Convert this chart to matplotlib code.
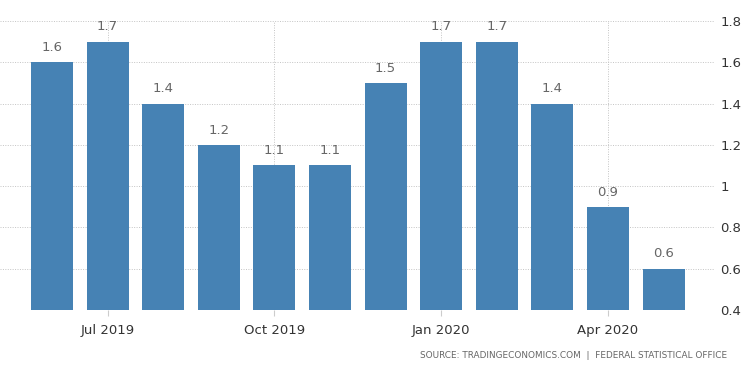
import matplotlib
matplotlib.use("Agg")
import matplotlib.pyplot as plt

months = ["Jun 2019", "Jul 2019", "Aug 2019", "Sep 2019", "Oct 2019", "Nov 2019",
          "Dec 2019", "Jan 2020", "Feb 2020", "Mar 2020", "Apr 2020", "May 2020"]
values = [1.6, 1.7, 1.4, 1.2, 1.1, 1.1, 1.5, 1.7, 1.7, 1.4, 0.9, 0.6]
tick_labels = ["Jul 2019", "Oct 2019", "Jan 2020", "Apr 2020"]
y_ticks = [0.4, 0.6, 0.8, 1.0, 1.2, 1.4, 1.6, 1.8]
y_tick_labels = ["0.4", "0.6", "0.8", "1", "1.2", "1.4", "1.6", "1.8"]

fig = plt.figure(figsize=(7.5, 3.73), dpi=100)
ax = fig.add_axes([0.0, 0.169, 0.953, 0.7747])

x = list(range(len(months)))
ax.bar(x, [v - 0.4 for v in values], bottom=0.4, width=0.755, color="#4682b4", zorder=2)

for xi, v in zip(x, values):
    ax.text(xi, v + 0.04, f"{v:g}", ha="center", va="bottom", fontsize=9.5,
            color="#666666", zorder=3)

ax.set_ylim(0.4, 1.8)
ax.set_xlim(-0.935, 11.92)
ax.set_yticks(y_ticks)
ax.set_yticklabels(y_tick_labels)
tick_pos = [months.index(t) for t in tick_labels]
ax.set_xticks(tick_pos)
ax.set_xticklabels(tick_labels)

ax.yaxis.tick_right()
ax.tick_params(axis="y", length=0, pad=4, labelsize=9.5, labelcolor="#333333")
ax.tick_params(axis="x", length=4, color="#cccccc", pad=6, labelsize=9.5, labelcolor="#333333")

ax.grid(True, axis="both", linestyle=(0, (1, 1.5)), color="#c4c4c4", linewidth=0.7, zorder=0)
for s in ax.spines.values():
    s.set_visible(False)
ax.set_axisbelow(True)

fig.text(0.969, 0.035, "SOURCE: TRADINGECONOMICS.COM  |  FEDERAL STATISTICAL OFFICE",
         ha="right", va="bottom", fontsize=6.4, color="#666666")

fig.savefig("out.png", dpi=100)
